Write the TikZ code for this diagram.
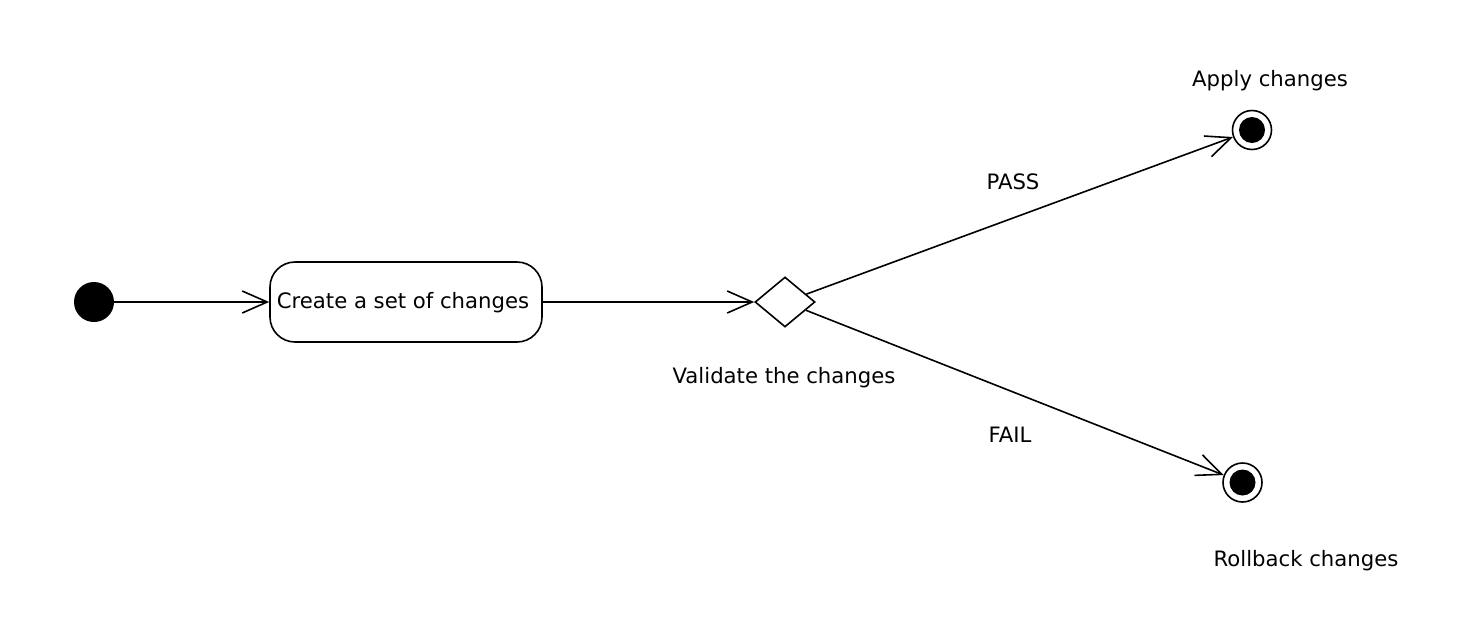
\documentclass[tikz,border=0pt]{standalone}
\usepackage{fontspec}
\setmainfont{DejaVu Sans}
\usetikzlibrary{shapes.geometric,arrows.meta}
\begin{document}
\begin{tikzpicture}[x=1pt,y=-1pt,
  every node/.style={font=\fontsize{21.2}{25}\selectfont},
  lw/.style={line width=1.6pt},
  flow/.style={lw,-{Straight Barb[length=25pt,width=22pt]}},
  startst/.style={circle,fill=black,minimum size=40pt,inner sep=0pt},
  endst/.style={circle,draw,lw,minimum size=39pt,inner sep=0pt,
     path picture={\fill (path picture bounding box.center) circle (13pt);}},
  actbox/.style={draw,lw,rounded corners=25pt,minimum width=272pt,minimum height=80pt,inner sep=0pt},
  decis/.style={diamond,draw,lw,minimum width=60pt,minimum height=50pt,inner sep=0pt},
  lbl/.style={inner sep=0pt}]
\useasboundingbox (0,0) rectangle (1470,638);
\node[startst] (s) at (94,302) {};
\node[actbox] (c) at (406,302) {};
\node[lbl] (ct) at (403,303) {Create a set of changes};
\node[decis] (d) at (785,302) {};
\node[endst] (a) at (1252,130) {};
\node[endst] (r) at (1242.5,482.5) {};
\draw[flow] (s) -- (c);
\draw[flow] (c) -- (d);
\draw[flow] (d) -- (a);
\draw[flow] (d) -- (r);
\node[lbl] (vl) at (784,378) {Validate the changes};
\node[lbl] (al) at (1270,81) {Apply changes};
\node[lbl] (rl) at (1306,561) {Rollback changes};
\node[lbl] (pl) at (1013,182) {PASS};
\node[lbl] (fl) at (1010,435) {FAIL};
\end{tikzpicture}
\end{document}
